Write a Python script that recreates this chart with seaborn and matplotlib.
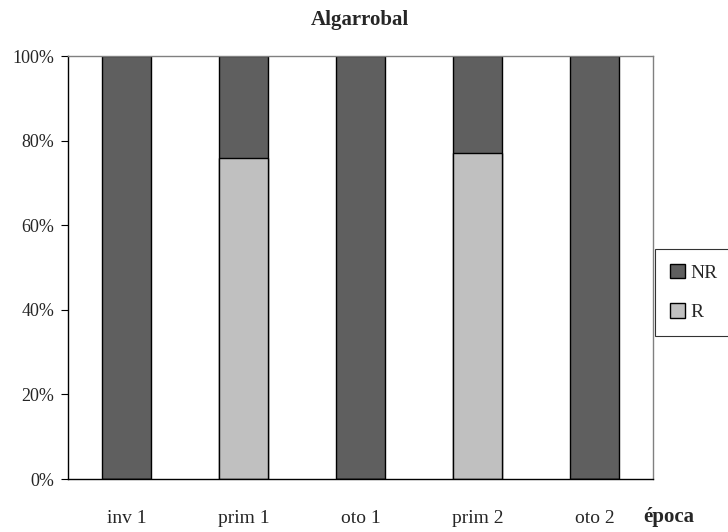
import pandas as pd
import matplotlib
matplotlib.use("Agg")
import matplotlib.pyplot as plt
import seaborn as sns
from matplotlib.patches import Patch

sns.set_style('white')
plt.rcParams['font.family'] = ['Liberation Serif', 'DejaVu Serif']

# data (percent)
epocas = ['inv 1', 'prim 1', 'oto 1', 'prim 2', 'oto 2']
r_pct = [0, 76, 0, 77, 0]
nr_pct = [100, 24, 100, 23, 100]

df = pd.DataFrame({'epoca': epocas, 'R': r_pct, 'NR': nr_pct})
df['total'] = df['R'] + df['NR']

dark = '#5f5f5f'
light = '#c0c0c0'

fig = plt.figure(figsize=(7.28, 5.32), dpi=100)
ax = fig.add_axes([0.0934, 0.0996, 0.8036, 0.7951])

# stacked bars: full height (NR on top) then R at the bottom
sns.barplot(data=df, x='epoca', y='total', color=dark, width=0.42,
            edgecolor='black', linewidth=1, saturation=1, ax=ax)
sns.barplot(data=df, x='epoca', y='R', color=light, width=0.42,
            edgecolor='black', linewidth=1, saturation=1, ax=ax)

ax.set_xlim(-0.5, 4.5)
ax.set_ylim(0, 100)
ax.set_yticks([0, 20, 40, 60, 80, 100])
ax.set_yticklabels(['0%', '20%', '40%', '60%', '80%', '100%'], fontsize=13)
ax.set_xlabel('')
ax.set_ylabel('')

# category labels without ticks, tick marks on the boundaries
ax.tick_params(axis='x', which='major', length=0, pad=22.5, labelsize=14)
ax.set_xticks([-0.5, 0.5, 1.5, 2.5, 3.5, 4.5], minor=True)
ax.tick_params(axis='x', which='minor', length=7, direction='out', color='black')
ax.tick_params(axis='y', length=5, direction='out', color='black', left=True, pad=5)

for side in ['top', 'right']:
    ax.spines[side].set_color('#808080')
    ax.spines[side].set_linewidth(1)
for side in ['left', 'bottom']:
    ax.spines[side].set_color('black')
    ax.spines[side].set_linewidth(1)

fig.text(0.4945, 0.962, 'Algarrobal', ha='center', va='center',
         fontsize=15, fontweight='bold')
fig.text(0.919, 0.029, 'época', ha='center', va='center',
         fontsize=15, fontweight='bold')

handles = [Patch(facecolor=dark, edgecolor='black', label='NR'),
           Patch(facecolor=light, edgecolor='black', label='R')]
leg = fig.legend(handles=handles, loc='upper left',
                 bbox_to_anchor=(655 / 728, 1 - 249 / 532), fontsize=14,
                 frameon=True, fancybox=False, handlelength=0.8,
                 handleheight=0.8, handletextpad=0.25, labelspacing=1.1,
                 borderpad=0.75, borderaxespad=0)
leg.get_frame().set_edgecolor('black')
leg.get_frame().set_linewidth(0.8)

plt.savefig('out.png', dpi=100)
